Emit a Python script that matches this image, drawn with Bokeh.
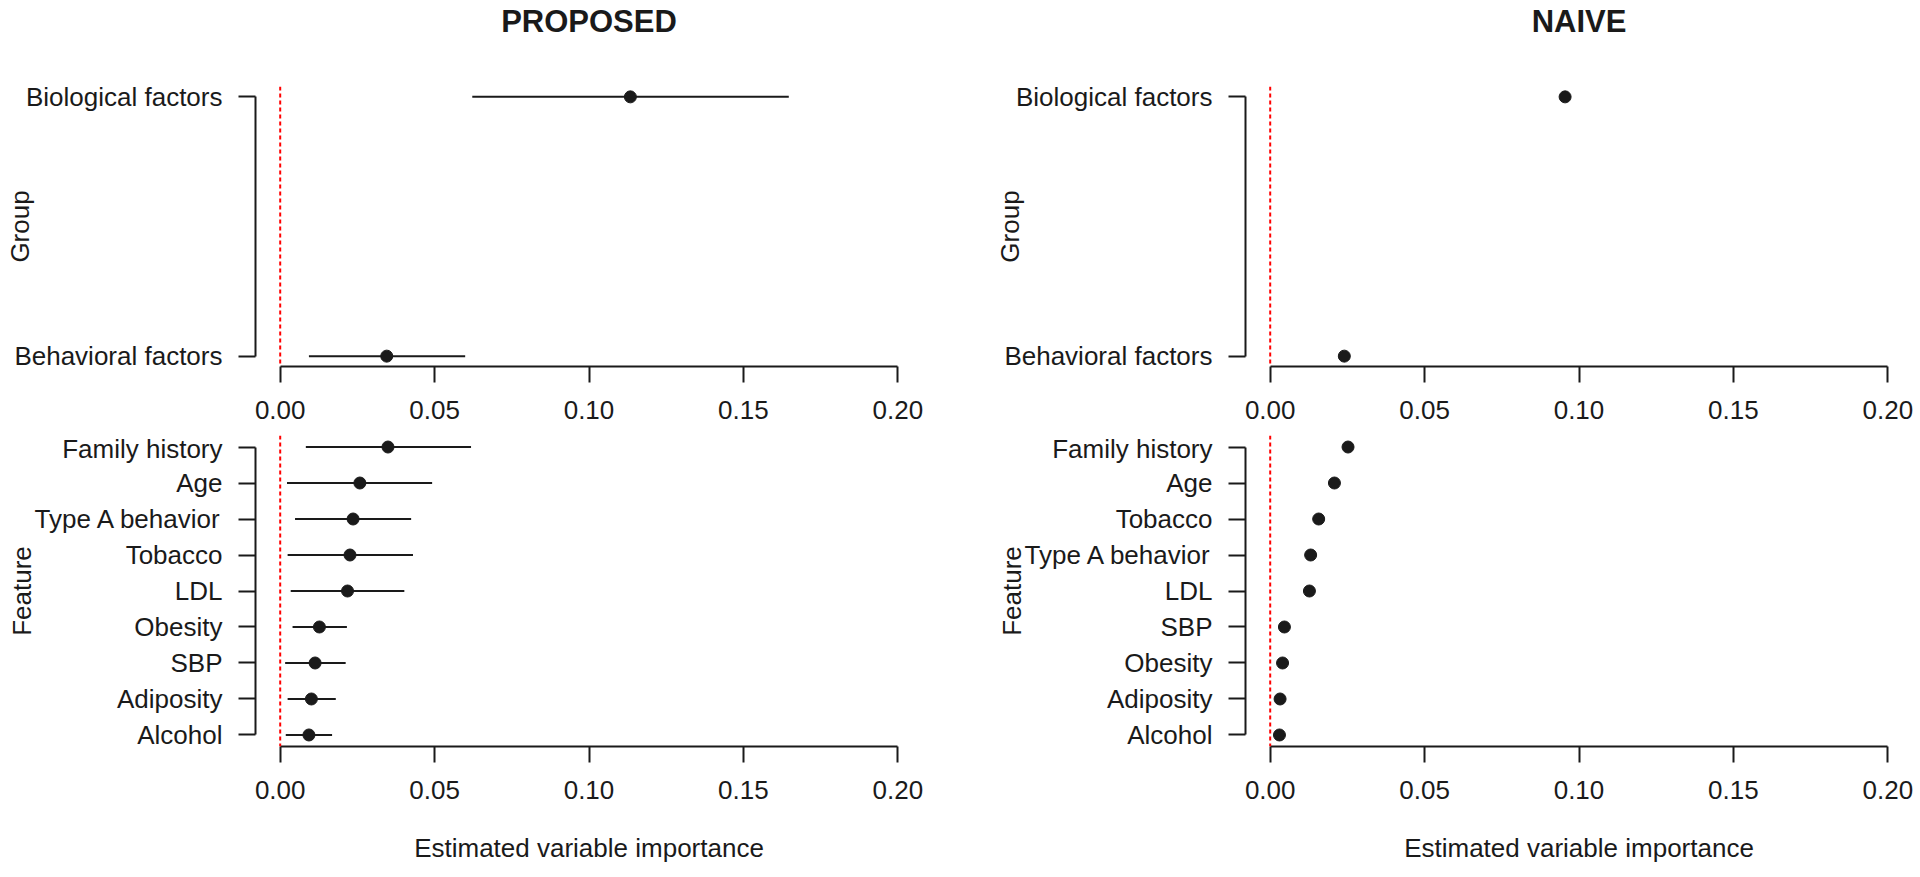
from bokeh.plotting import figure
from bokeh.models import Range1d, FixedTicker, NumeralTickFormatter, Span, LinearAxis
from bokeh.layouts import row, column
from bokeh.embed import file_html
from bokeh.resources import INLINE

# ---------------- data (listed top to bottom as in the chart) ----------------
prop_group_names = ["Biological factors", "Behavioral factors"]
prop_group_est = [0.1134, 0.0345]
prop_group_lo = [0.0622, 0.0093]
prop_group_hi = [0.1647, 0.0599]

prop_feat_names = ["Family history", "Age", "Type A behavior", "Tobacco", "LDL",
                   "Obesity", "SBP", "Adiposity", "Alcohol"]
prop_feat_est = [0.0349, 0.0258, 0.0236, 0.0226, 0.0218, 0.0127, 0.0113, 0.0101, 0.0093]
prop_feat_lo = [0.0083, 0.0022, 0.0048, 0.0024, 0.0034, 0.0040, 0.0016, 0.0024, 0.0018]
prop_feat_hi = [0.0618, 0.0492, 0.0424, 0.0430, 0.0402, 0.0216, 0.0212, 0.0180, 0.0168]

naive_group_names = ["Biological factors", "Behavioral factors"]
naive_group_est = [0.0955, 0.0240]

naive_feat_names = ["Family history", "Age", "Tobacco", "Type A behavior", "LDL",
                    "SBP", "Obesity", "Adiposity", "Alcohol"]
naive_feat_est = [0.0252, 0.0208, 0.0157, 0.0131, 0.0127, 0.0046, 0.0040, 0.0032, 0.0030]

x_ticks = [0.00, 0.05, 0.10, 0.15, 0.20]
panel_titles = ["PROPOSED", "NAIVE"]
y_titles = ["Group", "Feature"]
x_title = "Estimated variable importance"

# ---------------- style / layout ----------------
FONT = "Liberation Sans"
INK = "#1a1a1a"
FS = "26px"
FRAME_W = 667
FRAME_H = [280, 311]            # top row, bottom row
BORDER_L = [255, 287]           # left column, right column
BORDER_R = [36, 6]
BORDER_T = [83, 2]
BORDER_B = [67, 132]
YLAB_STANDOFF = [-24, -5]       # per row (label widths differ)


def make_panel(r, c, names, est, lo=None, hi=None):
    n = len(names)
    ys = [n - 1 - i for i in range(n)]
    xspan = x_ticks[-1] - x_ticks[0]
    xr = Range1d(x_ticks[0] - 0.04 * xspan, x_ticks[-1] + 0.04 * xspan)
    ypad = 0.04 * (n - 1)
    yr = Range1d(-ypad, n - 1 + ypad)

    p = figure(frame_width=FRAME_W, frame_height=FRAME_H[r], x_range=xr, y_range=yr,
               output_backend="svg", toolbar_location=None,
               min_border_left=BORDER_L[c], min_border_right=BORDER_R[c],
               min_border_top=BORDER_T[r], min_border_bottom=BORDER_B[r])
    p.grid.visible = False
    p.outline_line_color = None
    p.background_fill_color = "white"
    p.border_fill_color = "white"

    ax = p.xaxis[0]
    ax.ticker = FixedTicker(ticks=x_ticks)
    ax.formatter = NumeralTickFormatter(format="0.00")
    ax.bounds = (x_ticks[0], x_ticks[-1])
    ax.axis_line_color = INK
    ax.axis_line_width = 2
    ax.major_tick_line_color = INK
    ax.major_tick_line_width = 2
    ax.major_tick_in = 0
    ax.major_tick_out = 16
    ax.minor_tick_in = 0
    ax.minor_tick_out = 0
    ax.major_label_standoff = 18
    ax.major_label_text_font = FONT
    ax.major_label_text_font_size = FS
    ax.major_label_text_color = INK
    if r == 1:
        ax.axis_label = x_title
        ax.axis_label_standoff = 31
        ax.axis_label_text_font = FONT
        ax.axis_label_text_font_size = FS
        ax.axis_label_text_font_style = "normal"
        ax.axis_label_text_color = INK

    ay = p.yaxis[0]
    ay.ticker = FixedTicker(ticks=list(range(n)))
    ay.major_label_overrides = {ys[i]: names[i] for i in range(n)}
    ay.bounds = (0, n - 1)
    ay.axis_line_color = INK
    ay.axis_line_width = 2
    ay.major_tick_line_color = INK
    ay.major_tick_line_width = 2
    ay.major_tick_in = 0
    ay.major_tick_out = 17
    ay.minor_tick_in = 0
    ay.minor_tick_out = 0
    ay.major_label_standoff = 16
    ay.major_label_text_font = FONT
    ay.major_label_text_font_size = FS
    ay.major_label_text_color = INK
    ay.axis_label = y_titles[r]
    ay.axis_label_standoff = YLAB_STANDOFF[r]
    ay.axis_label_text_font = FONT
    ay.axis_label_text_font_size = FS
    ay.axis_label_text_font_style = "normal"
    ay.axis_label_text_color = INK

    if r == 0:
        top = LinearAxis(ticker=FixedTicker(ticks=[]), axis_label=panel_titles[c],
                         axis_line_color=None, major_tick_in=0, major_tick_out=0,
                         minor_tick_in=0, minor_tick_out=0, major_label_standoff=0,
                         axis_label_standoff=48, axis_label_text_font=FONT,
                         axis_label_text_font_size="31px", axis_label_text_font_style="bold",
                         axis_label_text_color=INK)
        p.add_layout(top, "above")

    p.add_layout(Span(location=0, dimension="height", line_color="#ff0000",
                      line_dash="4 3", line_width=2))

    if lo is not None:
        p.segment(x0=lo, y0=ys, x1=hi, y1=ys, line_color=INK, line_width=2)
    p.scatter(x=est, y=ys, size=12, fill_color=INK, line_color=INK)
    return p


p00 = make_panel(0, 0, prop_group_names, prop_group_est, prop_group_lo, prop_group_hi)
p01 = make_panel(0, 1, naive_group_names, naive_group_est)
p10 = make_panel(1, 0, prop_feat_names, prop_feat_est, prop_feat_lo, prop_feat_hi)
p11 = make_panel(1, 1, naive_feat_names, naive_feat_est)

layout = column(row(p00, p01), row(p10, p11))
open("out.html", "w").write(file_html(layout, INLINE))
